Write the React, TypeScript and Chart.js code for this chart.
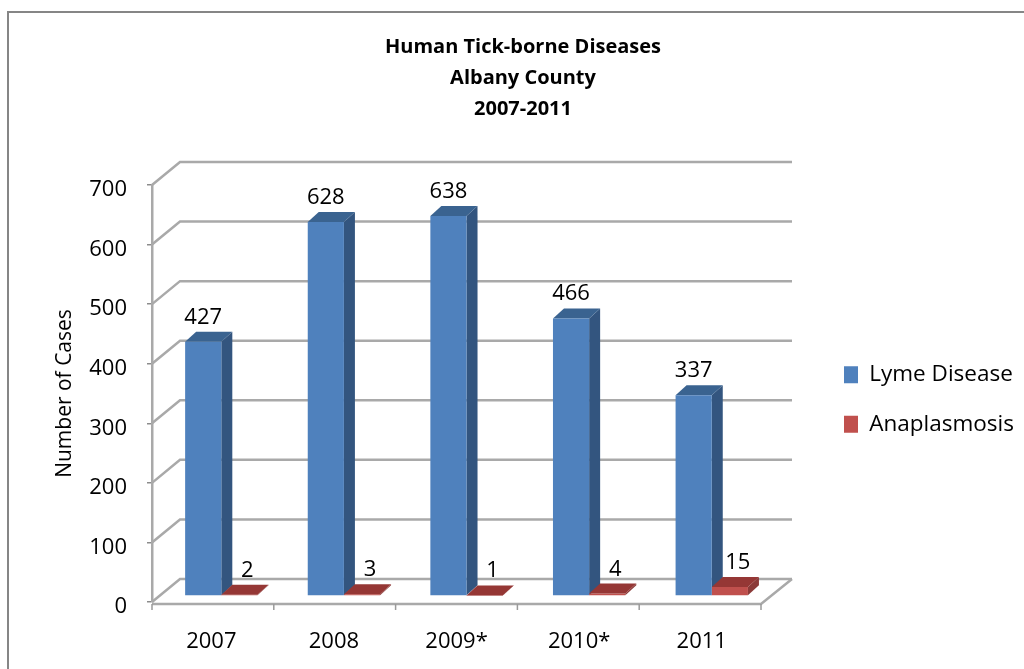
import React, { useEffect, useRef } from "react";
import { Chart, registerables } from "chart.js";

Chart.register(...registerables);

const categories = ["2007", "2008", "2009*", "2010*", "2011"];
const lymeDisease = [427, 628, 638, 466, 337];
const anaplasmosis = [2, 3, 1, 4, 15];
const titleLines = ["Human Tick-borne Diseases", "Albany County", "2007-2011"];
const yTicks = [0, 100, 200, 300, 400, 500, 600, 700];

const FONT = '"Open Sans", sans-serif';
const DEPTH_X = 28;
const DEPTH_Y = -23;
const BAR_DX = 8;
const BAR_DY = -6;
const BAR_DEPTH_X = 11;
const BAR_DEPTH_Y = -10;
const GRID = "#a9a9a9";

function faces(ctx: CanvasRenderingContext2D, bar: any, side: string, top: string) {
  const w = bar.width / 2;
  const l = bar.x - w;
  const r = bar.x + w;
  const t = bar.y;
  const b = bar.base;
  ctx.fillStyle = side;
  ctx.beginPath();
  ctx.moveTo(r, t);
  ctx.lineTo(r + BAR_DEPTH_X, t + BAR_DEPTH_Y);
  ctx.lineTo(r + BAR_DEPTH_X, b + BAR_DEPTH_Y);
  ctx.lineTo(r, b);
  ctx.closePath();
  ctx.fill();
  ctx.fillStyle = top;
  ctx.beginPath();
  ctx.moveTo(l, t);
  ctx.lineTo(l + BAR_DEPTH_X, t + BAR_DEPTH_Y);
  ctx.lineTo(r + BAR_DEPTH_X, t + BAR_DEPTH_Y);
  ctx.lineTo(r, t);
  ctx.closePath();
  ctx.fill();
}

const threeD = {
  id: "threeD",
  afterLayout(chart: any) {
    const legend = chart.legend;
    const pad = legend.options.labels.padding;
    legend.left = 844 - pad;
    legend.right = legend.left + legend.width;
    legend.top = 363.5 - pad;
    legend.bottom = legend.top + 200;
    chart.titleBlock.left = 0;
    chart.titleBlock.right = 1046;
  },
  beforeDraw(chart: any) {
    const ctx = chart.ctx as CanvasRenderingContext2D;
    ctx.save();
    ctx.fillStyle = "#ffffff";
    ctx.fillRect(0, 0, chart.width, chart.height);
    ctx.strokeStyle = "#868686";
    ctx.lineWidth = 2;
    ctx.strokeRect(8, 12, 1100, 800);
    ctx.restore();
  },
  beforeDatasetsDraw(chart: any) {
    const ctx = chart.ctx as CanvasRenderingContext2D;
    const { left, bottom } = chart.chartArea;
    const yScale = chart.scales.y;
    const front = 761;
    ctx.save();
    ctx.strokeStyle = GRID;
    ctx.lineWidth = 2.5;
    yTicks.forEach((v) => {
      const y = yScale.getPixelForValue(v);
      ctx.beginPath();
      ctx.moveTo(left, y);
      ctx.lineTo(left + DEPTH_X, y + DEPTH_Y);
      ctx.lineTo(front + 31, y + DEPTH_Y);
      ctx.stroke();
    });
    ctx.beginPath();
    ctx.moveTo(left, bottom + 2);
    ctx.lineTo(front, bottom + 2);
    ctx.lineTo(front + 31, bottom + DEPTH_Y);
    ctx.stroke();
    ctx.strokeStyle = "#9a9a9a";
    ctx.lineWidth = 1.5;
    categories.concat("").forEach((_, i) => {
      const x = left + (i * (front - left)) / categories.length;
      ctx.beginPath();
      ctx.moveTo(x, bottom + 2);
      ctx.lineTo(x, bottom + 8);
      ctx.stroke();
    });
    ctx.restore();

    ctx.save();
    ctx.translate(BAR_DX, BAR_DY);
    chart.getDatasetMeta(0).data.forEach((bar: any) => faces(ctx, bar, "#33557f", "#3a6390"));
    ctx.restore();
    ctx.save();
    ctx.translate(BAR_DX, BAR_DY);
  },
  afterDatasetsDraw(chart: any) {
    const ctx = chart.ctx as CanvasRenderingContext2D;
    chart.getDatasetMeta(1).data.forEach((bar: any) => faces(ctx, bar, "#8b3a38", "#953735"));
    ctx.restore();
    ctx.save();
    ctx.fillStyle = "#000000";
    ctx.font = `22px ${FONT}`;
    ctx.textAlign = "center";
    ctx.textBaseline = "alphabetic";
    [lymeDisease, anaplasmosis].forEach((series, d) => {
      chart.getDatasetMeta(d).data.forEach((bar: any, i: number) => {
        ctx.fillText(String(series[i]), bar.x + BAR_DX + (d ? 8 : 0), bar.y + BAR_DY - 18);
      });
    });
    ctx.restore();
  },
};

export default function App() {
  const ref = useRef<HTMLCanvasElement>(null);
  useEffect(() => {
    const chart = new Chart(ref.current!, {
      type: "bar",
      data: {
        labels: categories,
        datasets: [
          { label: "Lyme Disease", data: lymeDisease, backgroundColor: "#4f81bd" },
          { label: "Anaplasmosis", data: anaplasmosis, backgroundColor: "#c0504d" },
        ],
      },
      plugins: [threeD],
      options: {
        animation: false,
        responsive: false,
        layout: { padding: { left: 0, right: 52, top: 0, bottom: 0 } },
        datasets: { bar: { categoryPercentage: 0.59, barPercentage: 1 } },
        plugins: {
          tooltip: { enabled: false },
          title: {
            display: true,
            text: titleLines,
            color: "#000000",
            font: { family: FONT, size: 20, weight: "bold", lineHeight: 31 / 20 },
            padding: { top: 32, bottom: 60 },
          },
          legend: {
            position: "right",
            align: "start",
            labels: {
              boxWidth: 14,
              boxHeight: 17,
              padding: 27,
              color: "#000000",
              font: { family: FONT, size: 22.5 },
            },
          },
        },
        scales: {
          x: {
            afterFit: (s: any) => { s.height = 67; },
            grid: { display: false },
            border: { display: false },
            ticks: { color: "#000000", font: { family: FONT, size: 22 }, padding: 19, labelOffset: -2, maxRotation: 0 },
          },
          y: {
            min: 0,
            max: 700,
            afterFit: (s: any) => { s.width = 152; },
            grid: { drawOnChartArea: false, tickLength: 5, color: "#8c8c8c", lineWidth: 1.5 },
            border: { color: GRID, width: 2.5 },
            ticks: { stepSize: 100, color: "#000000", font: { family: FONT, size: 22 }, padding: 20, labelOffset: 5 },
            title: {
              display: true,
              text: "Number of Cases",
              color: "#000000",
              font: { family: FONT, size: 21 },
              padding: { top: 52, bottom: 0 },
            },
          },
        },
      },
    } as any);
    return () => chart.destroy();
  }, []);
  return (
    <div style={{ position: "fixed", left: 0, top: 0, width: 1024, height: 669 }}>
      <canvas ref={ref} width={1024} height={669} style={{ display: "block" }} />
    </div>
  );
}
